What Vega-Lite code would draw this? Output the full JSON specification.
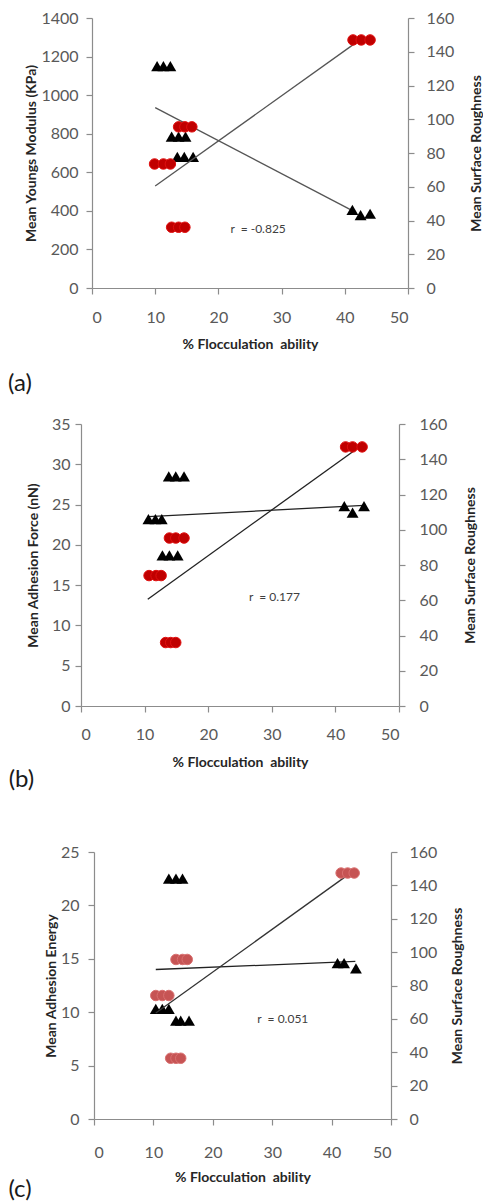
{
  "$schema": "https://vega.github.io/schema/vega-lite/v6.json",
  "padding": {"left": 7, "top": 10, "right": 0, "bottom": 0},
  "background": "white",
  "datasets": {
    "a": [
      {"kind": "tri", "x": 10.3, "y": 1150}, {"kind": "tri", "x": 11.3, "y": 1150}, {"kind": "tri", "x": 12.4, "y": 1150},
      {"kind": "tri", "x": 12.6, "y": 785}, {"kind": "tri", "x": 13.7, "y": 785}, {"kind": "tri", "x": 14.8, "y": 785},
      {"kind": "tri", "x": 13.5, "y": 680}, {"kind": "tri", "x": 14.6, "y": 680}, {"kind": "tri", "x": 16.0, "y": 680},
      {"kind": "tri", "x": 41.2, "y": 405}, {"kind": "tri", "x": 42.5, "y": 378}, {"kind": "tri", "x": 44.0, "y": 385},
      {"kind": "circ", "x": 9.9, "y": 73.5}, {"kind": "circ", "x": 11.3, "y": 73.5}, {"kind": "circ", "x": 12.4, "y": 73.5},
      {"kind": "circ", "x": 12.6, "y": 36}, {"kind": "circ", "x": 13.7, "y": 36}, {"kind": "circ", "x": 14.7, "y": 36},
      {"kind": "circ", "x": 13.7, "y": 95.5}, {"kind": "circ", "x": 14.7, "y": 95.5}, {"kind": "circ", "x": 15.8, "y": 95.5},
      {"kind": "circ", "x": 41.3, "y": 147}, {"kind": "circ", "x": 42.6, "y": 147}, {"kind": "circ", "x": 44.0, "y": 147},
      {"kind": "triline", "x": 10.0, "y": 935}, {"kind": "triline", "x": 41.5, "y": 396},
      {"kind": "circline", "x": 10.0, "y": 60.4}, {"kind": "circline", "x": 42.0, "y": 146},
      {"kind": "r", "x": 21.9, "y": 304, "label": "r\u00a0 = -0.825"}
    ],
    "b": [
      {"kind": "tri", "x": 10.6, "y": 23.2}, {"kind": "tri", "x": 11.7, "y": 23.2}, {"kind": "tri", "x": 12.7, "y": 23.2},
      {"kind": "tri", "x": 13.8, "y": 28.5}, {"kind": "tri", "x": 14.9, "y": 28.5}, {"kind": "tri", "x": 16.2, "y": 28.5},
      {"kind": "tri", "x": 12.8, "y": 18.7}, {"kind": "tri", "x": 13.9, "y": 18.7}, {"kind": "tri", "x": 15.2, "y": 18.7},
      {"kind": "tri", "x": 41.4, "y": 24.8}, {"kind": "tri", "x": 42.7, "y": 24.0}, {"kind": "tri", "x": 44.5, "y": 24.8},
      {"kind": "circ", "x": 10.7, "y": 74}, {"kind": "circ", "x": 11.8, "y": 74}, {"kind": "circ", "x": 12.6, "y": 74},
      {"kind": "circ", "x": 13.3, "y": 36}, {"kind": "circ", "x": 14.1, "y": 36}, {"kind": "circ", "x": 14.9, "y": 36},
      {"kind": "circ", "x": 13.9, "y": 95.3}, {"kind": "circ", "x": 14.9, "y": 95.3}, {"kind": "circ", "x": 16.2, "y": 95.3},
      {"kind": "circ", "x": 41.6, "y": 147}, {"kind": "circ", "x": 42.7, "y": 147}, {"kind": "circ", "x": 44.2, "y": 147},
      {"kind": "triline", "x": 10.6, "y": 23.5}, {"kind": "triline", "x": 44.5, "y": 24.9},
      {"kind": "circline", "x": 10.5, "y": 60.6}, {"kind": "circline", "x": 43.0, "y": 145},
      {"kind": "r", "x": 26.4, "y": 13.5, "label": "r\u00a0 = 0.177"}
    ],
    "c": [
      {"kind": "tri", "x": 12.6, "y": 22.5}, {"kind": "tri", "x": 13.8, "y": 22.5}, {"kind": "tri", "x": 14.9, "y": 22.5},
      {"kind": "tri", "x": 10.4, "y": 10.3}, {"kind": "tri", "x": 11.5, "y": 10.3}, {"kind": "tri", "x": 12.6, "y": 10.3},
      {"kind": "tri", "x": 13.8, "y": 9.2}, {"kind": "tri", "x": 14.6, "y": 9.2}, {"kind": "tri", "x": 16.0, "y": 9.2},
      {"kind": "tri", "x": 41.0, "y": 14.6}, {"kind": "tri", "x": 42.1, "y": 14.6}, {"kind": "tri", "x": 44.1, "y": 14.1},
      {"kind": "circ", "x": 10.4, "y": 74}, {"kind": "circ", "x": 11.5, "y": 74}, {"kind": "circ", "x": 12.6, "y": 74},
      {"kind": "circ", "x": 12.9, "y": 36.4}, {"kind": "circ", "x": 13.8, "y": 36.4}, {"kind": "circ", "x": 14.6, "y": 36.4},
      {"kind": "circ", "x": 13.8, "y": 95.6}, {"kind": "circ", "x": 14.9, "y": 95.6}, {"kind": "circ", "x": 15.7, "y": 95.6},
      {"kind": "circ", "x": 41.6, "y": 147.4}, {"kind": "circ", "x": 42.7, "y": 147.4}, {"kind": "circ", "x": 43.8, "y": 147.4},
      {"kind": "triline", "x": 10.4, "y": 14.0}, {"kind": "triline", "x": 44.0, "y": 14.75},
      {"kind": "circline", "x": 10.4, "y": 63.5}, {"kind": "circline", "x": 43.8, "y": 149},
      {"kind": "r", "x": 27.5, "y": 9.4, "label": "r\u00a0 = 0.051"}
    ]
  },
  "concat": [
    {
      "hconcat": [
        {"width": 1, "height": 1, "data": {"values": []}, "mark": "point"},
        {
          "width": 316, "height": 270,
          "title": {"text": "(a)", "orient": "bottom", "anchor": "start", "frame": "group", "dx": -84, "offset": 21},
          "encoding": {"x": {"field": "x", "type": "quantitative", "scale": {"domain": [0, 50]}, "axis": {"values": [0, 10, 20, 30, 40, 50], "title": "% Flocculation\u00a0 ability", "labelPadding": 15, "titlePadding": 12}}},
          "layer": [
            {
              "encoding": {"y": {"field": "y", "type": "quantitative", "scale": {"domain": [0, 1400]}, "axis": {"orient": "left", "format": "d", "values": [0, 200, 400, 600, 800, 1000, 1200, 1400], "title": "Mean Youngs Modulus (KPa)", "labelPadding": 8, "titlePadding": 2}}},
              "layer": [
                {"data": {"name": "a"}, "transform": [{"filter": "datum.kind == 'triline'"}], "mark": {"type": "line", "color": "#555555", "strokeWidth": 1.3}, "encoding": {}},
                {"data": {"name": "a"}, "transform": [{"filter": "datum.kind == 'tri'"}], "mark": {"type": "point", "shape": "triangle-up", "filled": true, "color": "#000000", "opacity": 1, "size": 140}},
                {"data": {"name": "a"}, "transform": [{"filter": "datum.kind == 'r'"}], "mark": {"type": "text", "align": "left", "baseline": "middle", "font": "Lato", "fontSize": 12, "color": "#404040"}, "encoding": {"text": {"field": "label"}}}
              ]
            },
            {
              "encoding": {"y": {"field": "y", "type": "quantitative", "scale": {"domain": [0, 160]}, "axis": {"orient": "right", "values": [0, 20, 40, 60, 80, 100, 120, 140, 160], "title": "Mean Surface Roughness", "titleAngle": -90, "titleBaseline": "top", "labelPadding": 12, "titlePadding": 16}}},
              "layer": [
                {"data": {"name": "a"}, "transform": [{"filter": "datum.kind == 'circline'"}], "mark": {"type": "line", "color": "#555555", "strokeWidth": 1.3}, "encoding": {}},
                {"data": {"name": "a"}, "transform": [{"filter": "datum.kind == 'circ'"}], "mark": {"type": "point", "shape": "circle", "filled": true, "color": "#c00000", "stroke": "#e01010", "strokeWidth": 1, "opacity": 1, "size": 110}}
              ]
            }
          ],
          "resolve": {"scale": {"y": "independent"}}
        }
      ],
      "spacing": 0
    },
    {
      "concat": [
        {
          "hconcat": [
            {"width": 1, "height": 1, "data": {"values": []}, "mark": "point"},
            {
              "width": 318, "height": 282,
              "title": {"text": "(b)", "orient": "bottom", "anchor": "start", "frame": "group", "dx": -72.3, "offset": -1},
              "encoding": {"x": {"field": "x", "type": "quantitative", "scale": {"domain": [0, 50]}, "axis": {"values": [0, 10, 20, 30, 40, 50], "title": "% Flocculation\u00a0 ability", "labelPadding": 14, "titlePadding": 13}}},
              "layer": [
                {
                  "encoding": {"y": {"field": "y", "type": "quantitative", "scale": {"domain": [0, 35]}, "axis": {"orient": "left", "values": [0, 5, 10, 15, 20, 25, 30, 35], "title": "Mean Adhesion Force (nN)", "labelPadding": 5, "titlePadding": 11}}},
                  "layer": [
                    {"data": {"name": "b"}, "transform": [{"filter": "datum.kind == 'triline'"}], "mark": {"type": "line", "color": "#222222", "strokeWidth": 1.3}, "encoding": {}},
                    {"data": {"name": "b"}, "transform": [{"filter": "datum.kind == 'tri'"}], "mark": {"type": "point", "shape": "triangle-up", "filled": true, "color": "#000000", "opacity": 1, "size": 140}},
                    {"data": {"name": "b"}, "transform": [{"filter": "datum.kind == 'r'"}], "mark": {"type": "text", "align": "left", "baseline": "middle", "font": "Lato", "fontSize": 12, "color": "#404040"}, "encoding": {"text": {"field": "label"}}}
                  ]
                },
                {
                  "encoding": {"y": {"field": "y", "type": "quantitative", "scale": {"domain": [0, 160]}, "axis": {"orient": "right", "values": [0, 20, 40, 60, 80, 100, 120, 140, 160], "title": "Mean Surface Roughness", "titleAngle": -90, "titleBaseline": "top", "labelPadding": 14, "titlePadding": 17}}},
                  "layer": [
                    {"data": {"name": "b"}, "transform": [{"filter": "datum.kind == 'circline'"}], "mark": {"type": "line", "color": "#222222", "strokeWidth": 1.3}, "encoding": {}},
                    {"data": {"name": "b"}, "transform": [{"filter": "datum.kind == 'circ'"}], "mark": {"type": "point", "shape": "circle", "filled": true, "color": "#c00000", "stroke": "#e01010", "strokeWidth": 1, "opacity": 1, "size": 110}}
                  ]
                }
              ],
              "resolve": {"scale": {"y": "independent"}}
            }
          ],
          "spacing": 0
        },
        {
          "hconcat": [
            {"width": 1, "height": 1, "data": {"values": []}, "mark": "point"},
            {
              "width": 297, "height": 267,
              "title": {"text": "(c)", "orient": "bottom", "anchor": "start", "frame": "group", "dx": -85.6, "offset": -6},
              "encoding": {"x": {"field": "x", "type": "quantitative", "scale": {"domain": [0, 50]}, "axis": {"values": [0, 10, 20, 30, 40, 50], "title": "% Flocculation\u00a0 ability", "labelPadding": 19, "titlePadding": 10}}},
              "layer": [
                {
                  "encoding": {"y": {"field": "y", "type": "quantitative", "scale": {"domain": [0, 25]}, "axis": {"orient": "left", "values": [0, 5, 10, 15, 20, 25], "title": "Mean Adhesion Energy", "labelPadding": 9, "titlePadding": 2}}},
                  "layer": [
                    {"data": {"name": "c"}, "transform": [{"filter": "datum.kind == 'triline'"}], "mark": {"type": "line", "color": "#222222", "strokeWidth": 1.3}, "encoding": {}},
                    {"data": {"name": "c"}, "transform": [{"filter": "datum.kind == 'tri'"}], "mark": {"type": "point", "shape": "triangle-up", "filled": true, "color": "#000000", "opacity": 1, "size": 140}},
                    {"data": {"name": "c"}, "transform": [{"filter": "datum.kind == 'r'"}], "mark": {"type": "text", "align": "left", "baseline": "middle", "font": "Lato", "fontSize": 12, "color": "#404040"}, "encoding": {"text": {"field": "label"}}}
                  ]
                },
                {
                  "encoding": {"y": {"field": "y", "type": "quantitative", "scale": {"domain": [0, 160]}, "axis": {"orient": "right", "values": [0, 20, 40, 60, 80, 100, 120, 140, 160], "title": "Mean Surface Roughness", "titleAngle": -90, "titleBaseline": "top", "labelPadding": 12, "titlePadding": 14}}},
                  "layer": [
                    {"data": {"name": "c"}, "transform": [{"filter": "datum.kind == 'circline'"}], "mark": {"type": "line", "color": "#333333", "strokeWidth": 1.3}, "encoding": {}},
                    {"data": {"name": "c"}, "transform": [{"filter": "datum.kind == 'circ'"}], "mark": {"type": "point", "shape": "circle", "filled": true, "color": "#c65454", "stroke": "#d97070", "strokeWidth": 1, "opacity": 1, "size": 110}}
                  ]
                }
              ],
              "resolve": {"scale": {"y": "independent"}}
            }
          ],
          "spacing": 0
        }
      ],
      "columns": 1,
      "spacing": 52
    }
  ],
  "columns": 1,
  "spacing": 20,
  "config": {
    "view": {"stroke": null},
    "title": {"font": "Lato", "fontSize": 24, "fontWeight": "normal", "color": "#1a1a1a"},
    "axis": {
      "grid": false,
      "domainColor": "#8c8c8c", "domainWidth": 1.2,
      "tickColor": "#8c8c8c", "tickSize": 6, "tickWidth": 1.2,
      "labelColor": "#595959", "labelFont": "Lato", "labelFontSize": 16,
      "titleFont": "Lato", "titleFontSize": 14, "titleFontWeight": "bold", "titleColor": "#262626"
    }
  }
}
